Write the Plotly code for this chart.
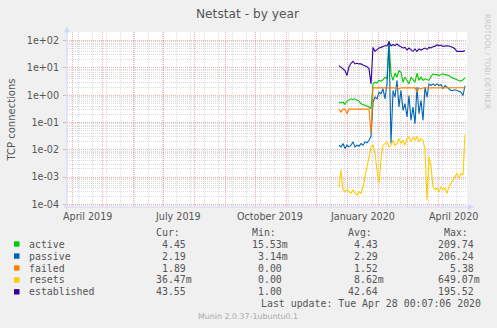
import pandas as pd
import plotly.graph_objects as go

# ---- data: daily-consolidated netstat counters, sampled every 2 days ----
dates = pd.date_range("2019-12-24", "2020-04-28", freq="2D")

active = [0.56, 0.52, 0.56, 0.46, 0.61, 0.68, 0.74, 0.70, 0.74, 0.65, 0.61, 0.49, 0.46, 0.42, 0.39, 0.37,
          0.32, 2.6, 3.0, 2.8, 3.5, 3.3, 3.7, 4.6, 4.0, 94.6, 6.1, 3.5, 6.4, 4.6, 8.0, 7.0,
          3.0, 4.6, 3.5, 2.6, 4.6, 3.5, 3.0, 6.4, 3.5, 4.6, 3.5, 4.0, 3.7, 3.5, 4.9, 6.1,
          5.7, 5.7, 5.3, 5.6, 6.1, 5.7, 5.6, 5.3, 4.6, 4.2, 4.0, 3.7, 3.5, 3.3, 3.7, 4.45]

passive = [0.0147, 0.0128, 0.0169, 0.0111, 0.0147, 0.0128, 0.0147, 0.0195, 0.0128, 0.0147, 0.0135, 0.0169,
           0.0147, 0.0195, 0.0179, 0.0224, 0.0313, 0.56, 0.85, 0.74, 1.30, 1.13, 1.72, 0.74, 2.6, 94.6, 0.0169,
           1.50, 0.85, 3.5, 0.37, 1.50, 0.28, 0.49, 0.16, 0.98, 0.12, 0.37, 0.091, 1.98, 0.21, 0.65, 0.12,
           1.98, 0.85, 2.6, 2.28, 2.6, 2.28, 2.6, 2.28, 2.48, 1.72, 2.28, 1.98, 1.72, 1.50, 1.50, 1.58,
           1.50, 1.42, 1.30, 0.98, 2.19]

failed = [0.31, 0.24, 0.31, 0.31, 0.21, 0.31, 0.31, 0.31, 0.31, 0.31, 0.31, 0.31, 0.31, 0.31, 0.31, 0.31,
          0.04, 1.87, 1.87, 1.87, 1.87, 1.87, 1.87, 1.87, 1.87, 1.87, 1.87, 1.87, 1.87, 1.87, 1.7, 1.87,
          1.87, 1.87, 1.87, 1.87, 1.87, 1.87, 1.87, 1.3, 1.87, 1.7, 1.87, 1.87, 1.87, 1.87, 1.87, 1.87,
          1.87, 1.87, 1.87, 1.87, 1.87, 1.87, 1.87, 1.87, 1.87, 1.87, 1.87, 1.87, 1.87, 1.87, 1.87, 1.89]

resets = [4.4e-4, 1.8e-3, 3.4e-4, 2.9e-4, 3.4e-4, 2.9e-4, 2.5e-4, 3.4e-4, 2.5e-4, 2.2e-4, 2.9e-4, 2.5e-4,
          4.4e-4, 1.0e-3, 2.4e-3, 5.5e-3, 0.0128, 0.0147, 7.3e-3, 1.8e-3, 5.9e-4, 4.2e-3, 0.0147, 0.0169,
          0.0195, 0.0128, 0.0147, 0.0224, 0.0147, 0.0169, 0.0258, 0.0169, 0.0224, 0.0147, 0.0258, 0.0296,
          0.0195, 0.0296, 0.0224, 0.0313, 0.0195, 0.0258, 0.0224, 9.7e-3, 1.45e-4, 5.5e-3, 2.4e-3, 4.4e-4,
          3.4e-4, 3.9e-4, 2.9e-4, 4.4e-4, 3.4e-4, 3.9e-4, 2.5e-4, 4.4e-4, 5.9e-4, 7.8e-4, 1.03e-3, 1.36e-3,
          8.9e-4, 1.36e-3, 1.18e-3, 0.03647]

established = [12.2, 10.6, 9.3, 8.0, 5.3, 11.2, 14.9, 17.6, 14.1, 14.9, 14.1, 14.1, 12.9, 12.2, 11.2, 9.3,
               2.6, 57, 40.8, 47, 54, 57, 62, 65.7, 65.7, 87, 65.7, 71.5, 67.6, 75.5, 65.7, 60.4,
               54, 57, 45.6, 54, 48.3, 40.8, 49.7, 40.8, 49.7, 45.6, 49.7, 54, 48.3, 57, 54, 60.4,
               62, 71.5, 65.7, 69.5, 62, 65.7, 65.7, 63.9, 60.4, 57, 49.7, 40.8, 40.8, 40.8, 40.8, 43.55]

names = ["active", "passive", "failed", "resets", "established"]
colors = ["#00CC00", "#0066B3", "#FF8000", "#FFCC00", "#330099"]
series = [active, passive, failed, resets, established]

# summary columns (min / avg / max over the full-resolution data)
stat_min = [0.01553, 0.00314, 0.0, 0.0, 1.00]
stat_avg = [4.43, 2.29, 1.52, 0.00862, 42.64]
stat_max = [209.74, 206.24, 5.38, 0.64907, 195.52]

x_labels = ["April 2019", "July 2019", "October 2019", "January 2020", "April 2020"]
x_label_dates = ["2019-04-16", "2019-07-16", "2019-10-16", "2020-01-16", "2020-04-16"]
y_tickvals = [1e-4, 1e-3, 1e-2, 1e-1, 1e0, 1e1, 1e2]
y_ticktext = ["1e-04", "1e-03", "1e-02", "1e-01", "1e+00", "1e+01", "1e+02"]

# ---- geometry (pixels) ----
FIG_W, FIG_H = 497, 328
PL, PR, PT, PB = 67, 467, 31.5, 207.3
PW, PH = PR - PL, PB - PT


def px(x):
    return (x - PL) / PW


def py(y):
    return (PB - y) / PH


def si(v):
    if v == 0:
        return "0.00\u00a0"
    if abs(v) < 1:
        return f"{v * 1000:.2f}m"
    return f"{v:.2f}\u00a0"


FONT = "DejaVu Sans"
MONO = "DejaVu Sans Mono"
TXT = "#555555"
MAJOR = "rgba(235,110,110,0.55)"
MINOR = "rgba(170,170,170,0.42)"
AXIS = "#CFD6F8"

fig = go.Figure()
for name, col, vals in zip(names, colors, series):
    fig.add_trace(go.Scatter(x=dates, y=vals, mode="lines", name=name,
                             line=dict(color=col, width=1.1), hoverinfo="skip"))

fig.update_layout(
    width=FIG_W, height=FIG_H,
    margin=dict(l=PL, r=FIG_W - PR, t=PT, b=FIG_H - PB, pad=0),
    paper_bgcolor="#F0F0F0", plot_bgcolor="#FFFFFF",
    showlegend=False,
)

fig.update_xaxes(
    type="date", range=["2019-03-27", "2020-04-30"],
    tick0="2019-04-01", dtick="M1",
    showgrid=True, gridcolor=MAJOR, griddash="1px,1px", gridwidth=1,
    showticklabels=False, ticks="", zeroline=False, showline=False,
    minor=dict(tick0="2019-04-07", dtick=14 * 86400000, showgrid=True,
               gridcolor=MINOR, griddash="1px,1px", gridwidth=1, ticks=""),
)

minor_vals = [m * 10.0 ** e for e in range(-5, 3) for m in range(2, 10)]
fig.update_yaxes(
    type="log", range=[-4.1, 2.32],
    tickmode="array", tickvals=y_tickvals, ticktext=y_ticktext,
    showgrid=True, gridcolor=MAJOR, griddash="1px,1px", gridwidth=1,
    ticks="outside", ticklen=3, tickcolor=MAJOR, ticklabelstandoff=2,
    tickfont=dict(family=FONT, size=9.6, color=TXT),
    zeroline=False, showline=False,
    minor=dict(tickmode="array", tickvals=minor_vals, showgrid=True,
               gridcolor=MINOR, griddash="1px,1px", gridwidth=1, ticks=""),
)

shapes = []
# axis lines with arrow heads
shapes.append(dict(type="line", xref="paper", yref="paper", x0=px(PL), x1=px(PL), y0=py(PB + 3), y1=py(29),
                   line=dict(color=AXIS, width=1)))
shapes.append(dict(type="line", xref="paper", yref="paper", x0=px(PL - 3), x1=px(PR + 4), y0=0, y1=0,
                   line=dict(color=AXIS, width=1)))
shapes.append(dict(type="path", xref="paper", yref="paper",
                   path=f"M {px(PL - 3)} {py(32)} L {px(PL)} {py(26)} L {px(PL + 3)} {py(32)} Z",
                   fillcolor=AXIS, line=dict(color=AXIS, width=0)))
shapes.append(dict(type="path", xref="paper", yref="paper",
                   path=f"M {px(PR + 1)} {py(PB - 3)} L {px(PR + 7)} {py(PB)} L {px(PR + 1)} {py(PB + 3)} Z",
                   fillcolor=AXIS, line=dict(color=AXIS, width=0)))

annotations = []


def txt(x, y, s, size, family=FONT, color=TXT, xanchor="center", angle=0):
    annotations.append(dict(x=px(x), y=py(y), xref="paper", yref="paper", text=s, showarrow=False,
                            xanchor=xanchor, yanchor="middle", textangle=angle,
                            font=dict(family=family, size=size, color=color)))


# x axis labels, centred in their months
for lab, d in zip(x_labels, x_label_dates):
    annotations.append(dict(x=d, y=py(217.3), xref="x", yref="paper", text=lab, showarrow=False,
                            xanchor="center", yanchor="middle",
                            font=dict(family=FONT, size=9.6, color=TXT)))

txt(248, 13, "Netstat - by year", 12.2)
txt(11, 119.4, "TCP connections", 10, angle=-90)
txt(487.5, 61, "RRDTOOL / TOBI OETIKER", 7.4, color="#C8C8C8", angle=90)

# legend table
col_right = [194.3, 290.3, 386.3, 482.3]
row_y = [244.5, 256.6, 268.6, 280.6, 292.5]
for k, head in enumerate(["Cur:", "Min:", "Avg:", "Max:"]):
    txt(col_right[k] - 12.2, 232.7, head, 9.9, family=MONO, xanchor="right")

for i, name in enumerate(names):
    y = row_y[i]
    shapes.append(dict(type="rect", xref="paper", yref="paper",
                       x0=px(14), x1=px(19.5), y0=py(y + 2.7), y1=py(y - 2.7),
                       fillcolor=colors[i], line=dict(width=0)))
    txt(26.7, y, name, 9.9, family=MONO, xanchor="left")
    vals = [series[i][-1], stat_min[i], stat_avg[i], stat_max[i]]
    for k, v in enumerate(vals):
        txt(col_right[k], y, si(v), 9.9, family=MONO, xanchor="right")

txt(482.7, 304.7, "Last update: Tue Apr 28 00:07:06 2020", 9.9, family=MONO, xanchor="right")
txt(247.5, 317.3, "Munin 2.0.37-1ubuntu0.1", 7.9, color="#AAAAAA")

fig.update_layout(shapes=shapes, annotations=annotations)
fig.write_html("out.html")
